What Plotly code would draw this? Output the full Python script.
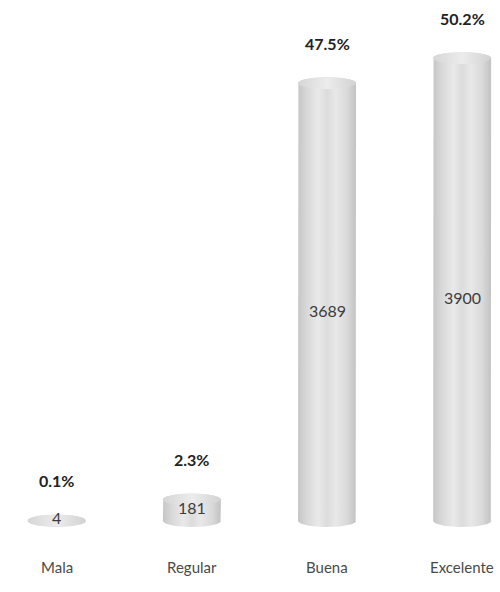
import numpy as np
import plotly.graph_objects as go

# Survey results: rating categories, respondent counts and share labels
categories = ["Mala", "Regular", "Buena", "Excelente"]
counts = [4, 181, 3689, 3900]
share_labels = ["0.1%", "2.3%", "47.5%", "50.2%"]

W, H = 500, 592
X_RANGE = [-0.42, 3.28]
Y_RANGE = [-598, 4389]
px_per_x = W / (X_RANGE[1] - X_RANGE[0])
px_per_y = H / (Y_RANGE[1] - Y_RANGE[0])

half_w = 29 / px_per_x      # cylinder radius in category units
ry = 6 / px_per_y           # elliptical cap half-height in value units

body_scale = [[0.0, "#c6c6c6"], [0.15, "#d8d8d8"], [0.35, "#e9e9e9"],
              [0.5, "#dcdcdc"], [0.65, "#e8e8e8"], [0.85, "#d9d9d9"],
              [1.0, "#c2c2c2"]]
cap_scale = [[0.0, "#d6d6d6"], [0.5, "#ececec"], [1.0, "#d2d2d2"]]

fig = go.Figure()
t_top = np.linspace(np.pi, 0, 40)
t_bot = np.linspace(0, -np.pi, 40)
t_full = np.linspace(0, 2 * np.pi, 80)

for i, v in enumerate(counts):
    cx = i
    # silhouette: left side, back arc of top cap, right side, front arc of base
    xs = ([cx - half_w] + list(cx + half_w * np.cos(t_top)) + [cx + half_w]
          + list(cx + half_w * np.cos(t_bot)))
    ys = ([0] + list(v + ry * np.sin(t_top)) + [0]
          + list(ry * np.sin(t_bot)))
    fig.add_trace(go.Scatter(
        x=xs, y=ys, mode="lines", line=dict(width=0), fill="toself",
        fillgradient=dict(type="horizontal", colorscale=body_scale),
        hoverinfo="skip", showlegend=False))
    # top cap
    fig.add_trace(go.Scatter(
        x=cx + half_w * np.cos(t_full), y=v + ry * np.sin(t_full),
        mode="lines", line=dict(width=0), fill="toself",
        fillgradient=dict(type="horizontal", colorscale=cap_scale),
        hoverinfo="skip", showlegend=False))

    # count inside the cylinder
    fig.add_annotation(x=cx, y=v / 2, text=str(v), showarrow=False,
                       yshift=-8 if v > 1000 else 3,
                       font=dict(family="Lato", size=16, color="#3c3c3c"))
    # share above the cylinder
    fig.add_annotation(x=cx, y=v, text=f"<b>{share_labels[i]}</b>",
                       showarrow=False, yshift=40,
                       font=dict(family="Lato", size=16, color="#222222"))
    # category label below
    fig.add_annotation(x=cx, y=0, text=categories[i], showarrow=False,
                       yshift=-46,
                       font=dict(family="Lato", size=15, color="#4a4a4a"))

fig.update_layout(
    width=W, height=H, margin=dict(l=0, r=0, t=0, b=0),
    paper_bgcolor="white", plot_bgcolor="white",
    xaxis=dict(range=X_RANGE, visible=False, fixedrange=True),
    yaxis=dict(range=Y_RANGE, visible=False, fixedrange=True),
)

fig.write_html("out.html")
